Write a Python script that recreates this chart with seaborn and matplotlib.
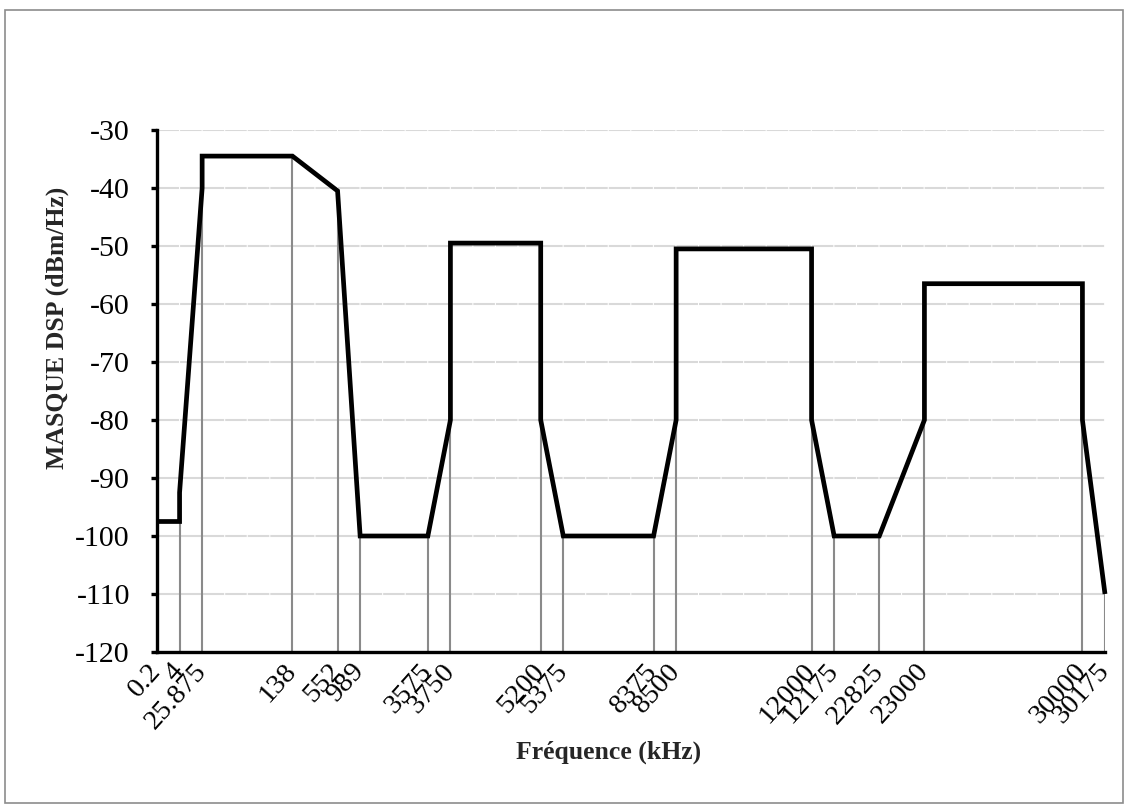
import numpy as np
import pandas as pd
import matplotlib
matplotlib.use("Agg")
import matplotlib.pyplot as plt
import seaborn as sns
from matplotlib.patches import Rectangle

# Category axis (Excel-like): blank strings are empty category slots
categories = ["0.2", "4", "25.875", "", "", "", "138", "", "552", "989",
              "", "", "3575", "3750", "", "", "", "5200", "5375", "",
              "", "", "8375", "8500", "", "", "", "", "", "12000",
              "12175", "", "22825", "", "23000", "", "", "", "", "",
              "", "30000", "30175"]

# PSD mask vertices (frequency label, dBm/Hz)
mask_freq = ["0.2", "4", "4", "25.875", "25.875", "138", "552", "989",
             "3575", "3750", "3750", "5200", "5200", "5375", "8375",
             "8500", "8500", "12000", "12000", "12175", "22825",
             "23000", "23000", "30000", "30000", "30175"]
mask_dbm = [-97.5, -97.5, -92.5, -40, -34.5, -34.5, -40.5, -100,
            -100, -80, -49.5, -49.5, -80, -100, -100,
            -80, -50.5, -50.5, -80, -100, -100,
            -80, -56.5, -56.5, -80, -110]

y_ticks = [-30, -40, -50, -60, -70, -80, -90, -100, -110, -120]

sns.set_style("white")
plt.rcParams['font.family'] = ['Liberation Serif', 'DejaVu Serif']

W, H = 1128, 808
fig = plt.figure(figsize=(W / 100, H / 100), dpi=100)
ax = fig.add_axes([157 / W, 1 - 652 / H, (1105 - 157) / W, (652 - 130) / H])

df = pd.DataFrame({"freq": mask_freq, "dbm": mask_dbm})
df["slot"] = [categories.index(f) for f in df["freq"]]

# horizontal gridlines
ax.set_ylim(y_ticks[-1], y_ticks[0])
ax.set_xlim(0, len(categories) - 1)
for y in y_ticks[:-1]:
    ax.axhline(y, color="#d9d9d9", lw=1.5,
               linestyle=(10.58, (10.33, 0.5)), zorder=0)

# drop lines
drop = df.groupby("slot")["dbm"].max()
ax.vlines(drop.index, y_ticks[-1], drop.values, colors="#8a8a8a",
          lw=1.5, zorder=1)

sns.lineplot(data=df, x="slot", y="dbm", sort=False, estimator=None,
             color="black", lw=3.4, ax=ax, zorder=3)
ln = ax.lines[-1]
ln.set_solid_joinstyle("miter")
ln.set_solid_capstyle("butt")
ln.set_clip_on(False)

ax.set_yticks(y_ticks)
ax.set_yticklabels([str(v) for v in y_ticks])
labeled = [i for i, c in enumerate(categories) if c]
ax.set_xticks(labeled)
ax.set_xticklabels([categories[i] for i in labeled], rotation=48,
                   ha="right", va="center", rotation_mode="anchor",
                   fontsize=20.5)
ax.tick_params(axis="x", length=0, pad=11, colors="black")
ax.tick_params(axis="y", direction="out", length=4.5, width=2.4, pad=15,
               labelsize=21.5, left=True, color="black", labelcolor="black")
for s in ["top", "right"]:
    ax.spines[s].set_visible(False)
for s in ["left", "bottom"]:
    ax.spines[s].set_color("black")
    ax.spines[s].set_linewidth(2.4)
    ax.spines[s].set_zorder(2.5)
ax.set_xlabel("")
ax.set_ylabel("")
ax.grid(False)

fig.text(609 / W, 1 - 752 / H, "Fréquence (kHz)", ha="center", va="center",
         fontsize=18.5, fontweight="bold")
fig.text(57 / W, 1 - 328 / H, "MASQUE DSP (dBm/Hz)", rotation=90,
         ha="center", va="center", fontsize=18.5, fontweight="bold")

fig.patches.append(Rectangle((5 / W, 5 / H), (1123 - 5) / W, (798 - 5) / H,
                             transform=fig.transFigure, fill=False,
                             edgecolor="#8c8c8c", lw=1.2))

fig.savefig("out.png", dpi=100)
